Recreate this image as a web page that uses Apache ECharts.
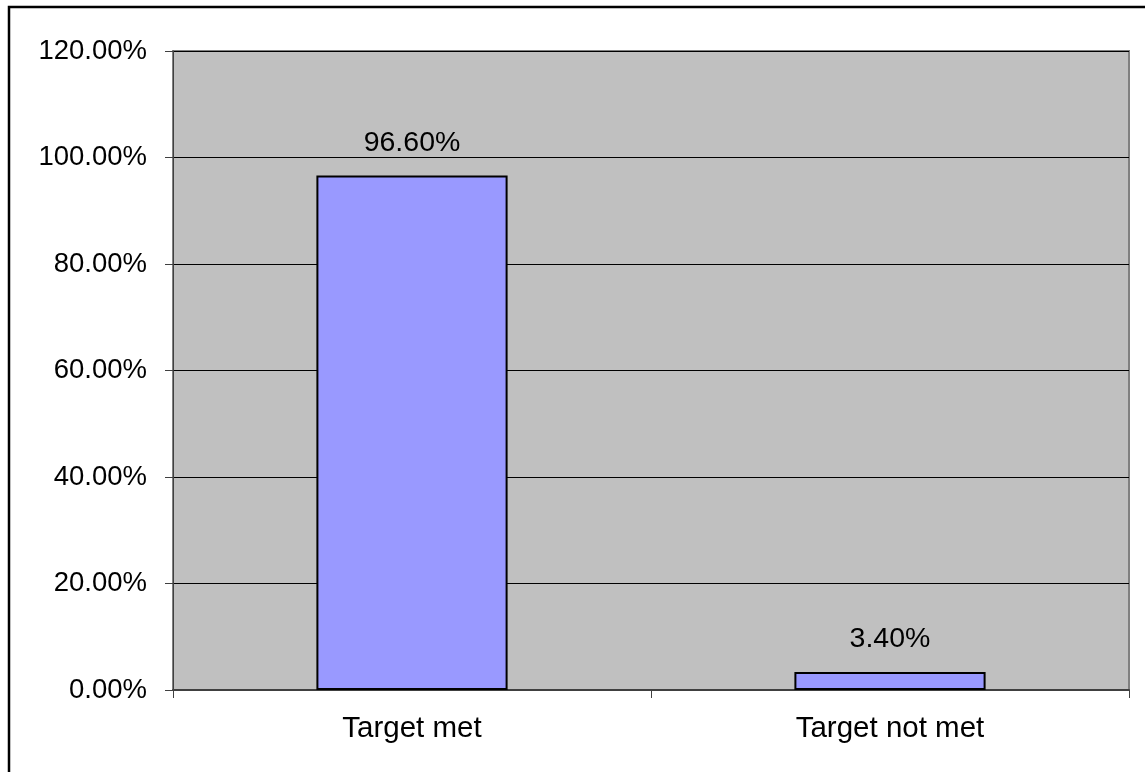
<!DOCTYPE html>
<html>
<head>
<meta charset="utf-8">
<script src="https://cdn.jsdelivr.net/npm/echarts@6/dist/echarts.min.js"></script>
<style>
html,body{margin:0;padding:0;background:#fff;}
#chart{width:1145px;height:772px;}
</style>
</head>
<body>
<div id="chart"></div>
<script>
const categories = ['Target met', 'Target not met'];
const values = [96.6, 3.4];
const yMin = 0, yMax = 120, yStep = 20;

const FONT = 'Liberation Sans';
const chart = echarts.init(document.getElementById('chart'), null, {renderer: 'canvas'});
chart.setOption({
  backgroundColor: '#ffffff',
  animation: false,
  graphic: [{
    type: 'rect',
    shape: {x: 9, y: 7, width: 1160, height: 800},
    style: {fill: 'none', stroke: '#000', lineWidth: 2.5},
    silent: true
  }],
  grid: {
    left: 173, right: 16, top: 51, bottom: 82,
    show: true, backgroundColor: '#c0c0c0', borderColor: '#808080', borderWidth: 2
  },
  xAxis: {
    type: 'category',
    data: categories,
    axisLine: {show: true, lineStyle: {color: '#404040', width: 2}},
    axisTick: {show: true, alignWithLabel: false, length: 8, lineStyle: {color: '#404040', width: 1}},
    axisLabel: {fontFamily: FONT, fontSize: 29.5, color: '#000', margin: 24},
    splitLine: {show: false}
  },
  yAxis: {
    type: 'value',
    min: yMin, max: yMax, interval: yStep,
    axisLine: {show: true, lineStyle: {color: '#404040', width: 1}},
    axisTick: {show: true, length: 8, lineStyle: {color: '#404040', width: 1}},
    axisLabel: {fontFamily: FONT, fontSize: 27.5, color: '#000', margin: 26,
      formatter: v => v.toFixed(2) + '%'},
    splitLine: {show: true, lineStyle: {color: '#000', width: 1}}
  },
  series: [{
    type: 'bar',
    data: values,
    barWidth: '40%',
    itemStyle: {color: '#9999ff', borderColor: '#000', borderWidth: 2},
    label: {show: true, position: 'top', distance: 18, fontFamily: FONT, fontSize: 28.5, color: '#000',
      formatter: p => p.value.toFixed(2) + '%'}
  }]
});
</script>
</body>
</html>
